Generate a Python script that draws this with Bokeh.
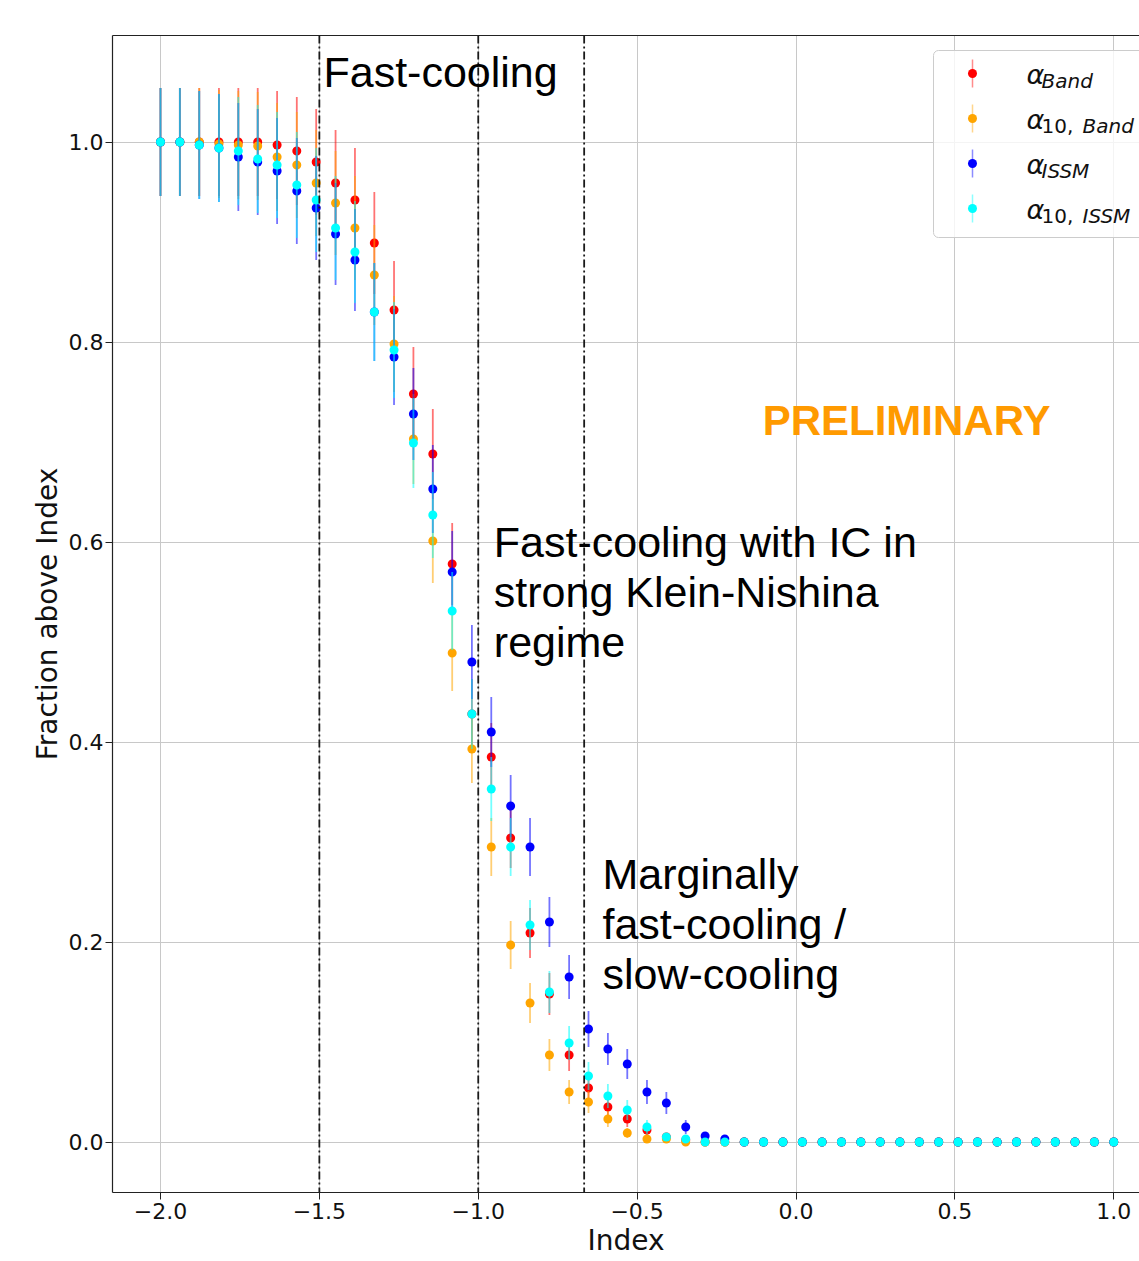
from bokeh.plotting import figure
from bokeh.models import Range1d, Span, Label, FixedTicker, LinearAxis, ColumnDataSource
from bokeh.core.properties import value
from bokeh.embed import file_html
from bokeh.resources import INLINE

# ---------------- data ----------------
INDEX = [-2.000, -1.939, -1.878, -1.816, -1.755, -1.694, -1.633, -1.571, -1.510, -1.449,
         -1.388, -1.327, -1.265, -1.204, -1.143, -1.082, -1.020, -0.959, -0.898, -0.837,
         -0.776, -0.714, -0.653, -0.592, -0.531, -0.469, -0.408, -0.347, -0.286, -0.224,
         -0.163, -0.102, -0.041, 0.020, 0.082, 0.143, 0.204, 0.265, 0.327, 0.388,
         0.449, 0.510, 0.571, 0.633, 0.694, 0.755, 0.816, 0.878, 0.939, 1.000]

FRAC_BAND = [1.000, 1.000, 1.000, 1.000, 1.000, 1.000, 0.997, 0.991, 0.980, 0.959,
             0.942, 0.899, 0.832, 0.748, 0.688, 0.578, 0.428, 0.385, 0.304, 0.209,
             0.148, 0.087, 0.054, 0.035, 0.023, 0.012, 0.005, 0.002, 0.000, 0.000,
             0.0, 0.0, 0.0, 0.0, 0.0, 0.0, 0.0, 0.0, 0.0, 0.0,
             0.0, 0.0, 0.0, 0.0, 0.0, 0.0, 0.0, 0.0, 0.0, 0.0]
ERR_BAND = [0.054, 0.054, 0.054, 0.054, 0.054, 0.054, 0.054, 0.054, 0.053, 0.053,
            0.052, 0.051, 0.049, 0.047, 0.045, 0.041, 0.035, 0.034, 0.030, 0.025,
            0.021, 0.016, 0.013, 0.010, 0.008, 0.006, 0.004, 0.002, 0.0, 0.0,
            0.0, 0.0, 0.0, 0.0, 0.0, 0.0, 0.0, 0.0, 0.0, 0.0,
            0.0, 0.0, 0.0, 0.0, 0.0, 0.0, 0.0, 0.0, 0.0, 0.0]

FRAC_10_BAND = [1.000, 1.000, 1.000, 0.998, 0.997, 0.996, 0.985, 0.977, 0.959, 0.939,
                0.914, 0.867, 0.798, 0.703, 0.601, 0.489, 0.393, 0.295, 0.197, 0.139,
                0.087, 0.050, 0.040, 0.023, 0.009, 0.003, 0.003, 0.000, 0.000, 0.000,
                0.0, 0.0, 0.0, 0.0, 0.0, 0.0, 0.0, 0.0, 0.0, 0.0,
                0.0, 0.0, 0.0, 0.0, 0.0, 0.0, 0.0, 0.0, 0.0, 0.0]
ERR_10_BAND = [0.054, 0.054, 0.054, 0.054, 0.054, 0.054, 0.054, 0.053, 0.053, 0.052,
               0.052, 0.050, 0.048, 0.045, 0.042, 0.038, 0.034, 0.029, 0.024, 0.020,
               0.016, 0.012, 0.011, 0.008, 0.005, 0.003, 0.003, 0.0, 0.0, 0.0,
               0.0, 0.0, 0.0, 0.0, 0.0, 0.0, 0.0, 0.0, 0.0, 0.0,
               0.0, 0.0, 0.0, 0.0, 0.0, 0.0, 0.0, 0.0, 0.0, 0.0]

FRAC_ISSM = [1.000, 1.000, 0.997, 0.994, 0.985, 0.980, 0.971, 0.951, 0.934, 0.908,
             0.882, 0.830, 0.785, 0.728, 0.653, 0.570, 0.480, 0.410, 0.336, 0.295,
             0.220, 0.165, 0.113, 0.093, 0.078, 0.050, 0.039, 0.015, 0.006, 0.003,
             0.0, 0.0, 0.0, 0.0, 0.0, 0.0, 0.0, 0.0, 0.0, 0.0,
             0.0, 0.0, 0.0, 0.0, 0.0, 0.0, 0.0, 0.0, 0.0, 0.0]
ERR_ISSM = [0.054, 0.054, 0.054, 0.054, 0.054, 0.053, 0.053, 0.053, 0.052, 0.051,
            0.051, 0.049, 0.048, 0.046, 0.044, 0.041, 0.037, 0.035, 0.031, 0.029,
            0.025, 0.022, 0.018, 0.016, 0.015, 0.012, 0.011, 0.007, 0.004, 0.003,
            0.0, 0.0, 0.0, 0.0, 0.0, 0.0, 0.0, 0.0, 0.0, 0.0,
            0.0, 0.0, 0.0, 0.0, 0.0, 0.0, 0.0, 0.0, 0.0, 0.0]

FRAC_10_ISSM = [1.000, 1.000, 0.997, 0.994, 0.991, 0.983, 0.977, 0.957, 0.942, 0.914,
                0.890, 0.830, 0.792, 0.699, 0.627, 0.531, 0.428, 0.353, 0.295, 0.217,
                0.150, 0.099, 0.066, 0.046, 0.032, 0.015, 0.005, 0.003, 0.000, 0.000,
                0.0, 0.0, 0.0, 0.0, 0.0, 0.0, 0.0, 0.0, 0.0, 0.0,
                0.0, 0.0, 0.0, 0.0, 0.0, 0.0, 0.0, 0.0, 0.0, 0.0]
ERR_10_ISSM = [0.054, 0.054, 0.054, 0.054, 0.054, 0.054, 0.053, 0.053, 0.052, 0.052,
               0.051, 0.049, 0.048, 0.045, 0.043, 0.039, 0.035, 0.032, 0.029, 0.025,
               0.021, 0.017, 0.014, 0.012, 0.010, 0.007, 0.004, 0.003, 0.0, 0.0,
               0.0, 0.0, 0.0, 0.0, 0.0, 0.0, 0.0, 0.0, 0.0, 0.0,
               0.0, 0.0, 0.0, 0.0, 0.0, 0.0, 0.0, 0.0, 0.0, 0.0]

SERIES_COLORS = ["#ff0000", "#ffa500", "#0000ff", "#00ffff"]
SUB_PREFIX = ["", "10,", "", "10,"]
SUB_NAME = ["Band", "Band", "ISSM", "ISSM"]

REGIME_BOUNDS = [-1.5, -1.0, -2.0 / 3.0]
XTICKS = [-2.0, -1.5, -1.0, -0.5, 0.0, 0.5, 1.0]
XTICK_LABELS = ["\u22122.0", "\u22121.5", "\u22121.0", "\u22120.5", "0.0", "0.5", "1.0"]
YTICKS = [0.0, 0.2, 0.4, 0.6, 0.8, 1.0]
YTICK_LABELS = ["0.0", "0.2", "0.4", "0.6", "0.8", "1.0"]

# ---------------- figure ----------------
FIG_W, FIG_H = 1139, 1259
BORDER_L, BORDER_T, BORDER_B = 112, 35, 67
FRAME_W = FIG_W - BORDER_L
FRAME_H = FIG_H - BORDER_T - BORDER_B

p = figure(width=FIG_W, height=FIG_H,
           x_range=Range1d(-2.151, 1.081), y_range=Range1d(-0.0505, 1.1065),
           output_backend="svg", toolbar_location=None,
           min_border_left=BORDER_L, min_border_right=0,
           min_border_top=BORDER_T, min_border_bottom=BORDER_B)
p.outline_line_color = None
p.background_fill_color = "white"
p.border_fill_color = "white"

for ax in (p.xaxis[0], p.yaxis[0]):
    ax.axis_line_color = "#222222"
    ax.axis_line_width = 1.2
    ax.major_tick_line_color = "#222222"
    ax.major_tick_out = 7
    ax.major_tick_in = 0
    ax.minor_tick_line_color = None
    ax.major_label_text_font = "DejaVu Sans"
    ax.major_label_text_font_size = "22px"
    ax.major_label_text_color = "#111111"
    ax.major_label_standoff = 3
    ax.axis_label_text_font = "DejaVu Sans"
    ax.axis_label_text_font_size = "28px"
    ax.axis_label_text_font_style = "normal"
    ax.axis_label_text_color = "#111111"
    ax.axis_label_standoff = 2
p.yaxis.major_label_standoff = 2

p.xaxis.ticker = FixedTicker(ticks=XTICKS)
p.xaxis.major_label_overrides = dict(zip(XTICKS, XTICK_LABELS))
p.yaxis.ticker = FixedTicker(ticks=YTICKS)
p.yaxis.major_label_overrides = dict(zip(YTICKS, YTICK_LABELS))
p.xaxis.axis_label = "Index"
p.yaxis.axis_label = "Fraction above Index"

top_axis = LinearAxis(ticker=FixedTicker(ticks=[]), axis_line_color="#222222", axis_line_width=1.2,
                      major_tick_line_color=None, minor_tick_line_color=None,
                      major_label_text_font_size="0px")
p.add_layout(top_axis, "above")

p.xgrid.grid_line_color = "#c8c8c8"
p.ygrid.grid_line_color = "#c8c8c8"
p.xgrid.grid_line_width = 1
p.ygrid.grid_line_width = 1

# regime boundaries
for b in REGIME_BOUNDS:
    p.add_layout(Span(location=b, dimension="height", line_color="#1a1a1a",
                      line_dash="8 3 2 3", line_width=1.8))

# data with error bars
series = [(FRAC_BAND, ERR_BAND), (FRAC_10_BAND, ERR_10_BAND),
          (FRAC_ISSM, ERR_ISSM), (FRAC_10_ISSM, ERR_10_ISSM)]
for (frac, err), color in zip(series, SERIES_COLORS):
    lo = [f - e for f, e in zip(frac, err)]
    hi = [f + e for f, e in zip(frac, err)]
    src = ColumnDataSource(dict(x=INDEX, y=frac, lo=lo, hi=hi))
    p.segment(x0="x", y0="lo", x1="x", y1="hi", source=src,
              line_color=color, line_alpha=0.55, line_width=1.8)
    p.scatter(x="x", y="y", source=src, size=9, fill_color=color, line_color=color, line_width=0)

# annotations
def add_text(x, y, t, size="43px", color="black", style="normal"):
    p.add_layout(Label(x=x, y=y, text=t, text_font="Liberation Sans", text_font_size=size,
                       text_color=color, text_font_style=style, text_baseline="alphabetic"))

add_text(-1.487, 1.070, "Fast-cooling")
add_text(-0.951, 0.600, "Fast-cooling with IC in")
add_text(-0.951, 0.550, "strong Klein-Nishina")
add_text(-0.951, 0.500, "regime")
add_text(-0.609, 0.268, "Marginally")
add_text(-0.609, 0.218, "fast-cooling /")
add_text(-0.609, 0.168, "slow-cooling")
add_text(-0.105, 0.722, "PRELIMINARY", size="42px", color="#ff9a00", style="bold")

# ---------------- legend (pixel layout coordinates inside the frame) ----------------
p.extra_x_ranges = {"lx": Range1d(0, FRAME_W)}
p.extra_y_ranges = {"ly": Range1d(FRAME_H, 0)}
LEG_LEFT, LEG_RIGHT, LEG_TOP, LEG_BOTTOM = 821, 1045, 15, 202
LEG_MARK_X = 860
LEG_ROWS = [38, 83, 128, 173]
LEG_ALPHA_X = 914
LEG_SUB_X = 929
LEG_SUB_X2 = 970

p.quad(left=[LEG_LEFT], right=[LEG_RIGHT], top=[LEG_TOP], bottom=[LEG_BOTTOM],
       x_range_name="lx", y_range_name="ly", fill_color="white", fill_alpha=0.8,
       line_color="#cccccc", line_width=1, border_radius=5)
p.segment(x0=[LEG_MARK_X] * 4, x1=[LEG_MARK_X] * 4,
          y0=[r - 14 for r in LEG_ROWS], y1=[r + 14 for r in LEG_ROWS],
          x_range_name="lx", y_range_name="ly",
          line_color=SERIES_COLORS, line_alpha=0.45, line_width=1.5)
p.scatter(x=[LEG_MARK_X] * 4, y=LEG_ROWS, x_range_name="lx", y_range_name="ly",
          size=9, fill_color=SERIES_COLORS, line_color=SERIES_COLORS, line_width=0)
p.text(x=[LEG_ALPHA_X] * 4, y=[r + 0.5 for r in LEG_ROWS], text=["\u03b1"] * 4,
       x_range_name="lx", y_range_name="ly", text_font=value("DejaVu Sans"),
       text_font_style="italic", text_font_size="27px", text_color="#111111",
       text_baseline="alphabetic")
pre_rows = [r for r, s in zip(LEG_ROWS, SUB_PREFIX) if s]
pre_text = [s for s in SUB_PREFIX if s]
p.text(x=[LEG_SUB_X] * len(pre_rows), y=[r + 7.5 for r in pre_rows], text=pre_text,
       x_range_name="lx", y_range_name="ly", text_font=value("DejaVu Sans"),
       text_font_size="20px", text_color="#111111", text_baseline="alphabetic")
p.text(x=[LEG_SUB_X2 if s else LEG_SUB_X for s in SUB_PREFIX], y=[r + 7.5 for r in LEG_ROWS],
       text=SUB_NAME, x_range_name="lx", y_range_name="ly", text_font=value("DejaVu Sans"),
       text_font_style="italic", text_font_size="20px", text_color="#111111",
       text_baseline="alphabetic")

open("out.html", "w").write(file_html(p, INLINE))
